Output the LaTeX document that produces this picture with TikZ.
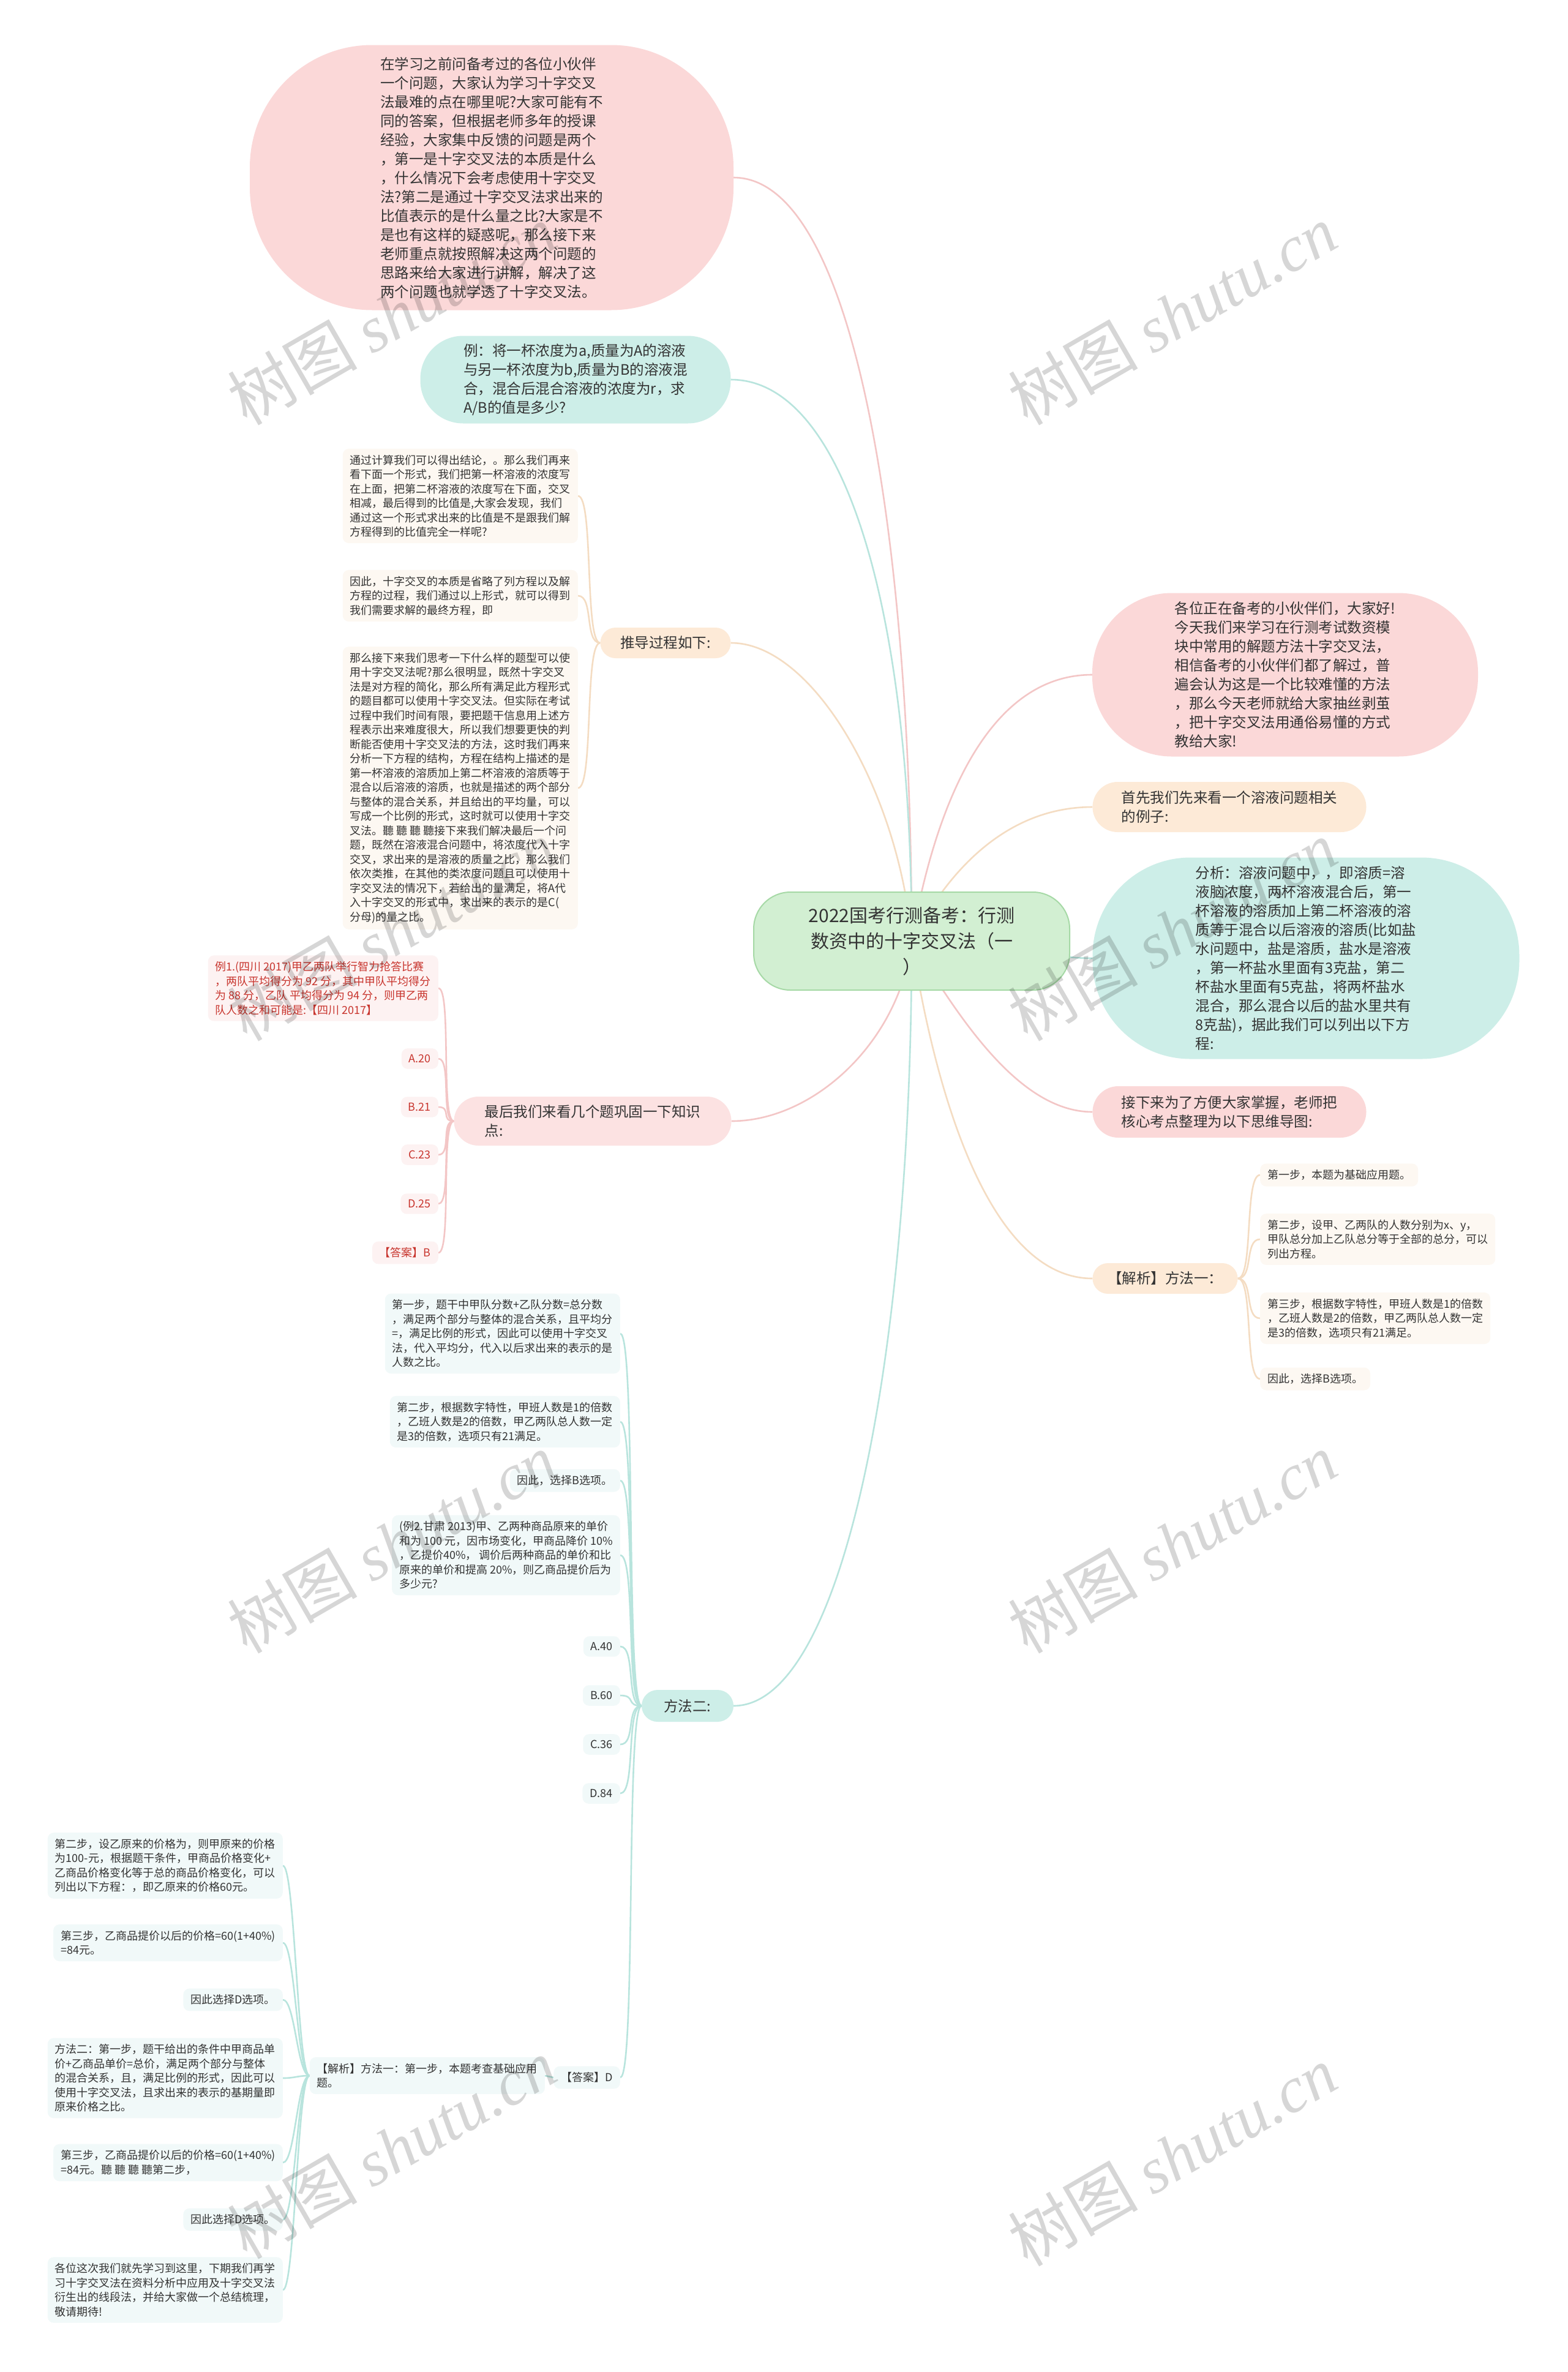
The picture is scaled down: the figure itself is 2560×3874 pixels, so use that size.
\documentclass[tikz,border=0pt]{standalone}
\usepackage{fontspec}
\setmainfont{Noto Sans CJK SC}
\newfontfamily\wmlatin{Liberation Serif}
\usetikzlibrary{backgrounds}
\pgfdeclarelayer{bottom}
\pgfsetlayers{bottom,background,main}
\definecolor{txt}{HTML}{333333}
\definecolor{redtxt}{HTML}{C8352E}
\definecolor{pinkF}{HTML}{FBD8D8}
\definecolor{pinkL}{HTML}{FCE2E2}
\definecolor{tealF}{HTML}{CDEEE8}
\definecolor{peachF}{HTML}{FDEAD7}
\definecolor{greenF}{HTML}{D2EFD2}
\definecolor{greenD}{HTML}{A6D9A6}
\definecolor{peachLeaf}{HTML}{FDF8F2}
\definecolor{redLeaf}{HTML}{FDF2F2}
\definecolor{tealLeaf}{HTML}{F1F9F9}
\definecolor{pinkLine}{HTML}{F3C6C6}
\definecolor{tealLine}{HTML}{B8E4DD}
\definecolor{peachLine}{HTML}{F4DCC2}
\tikzset{
  bub/.style={align=left, text=txt, font={\fontsize{23.5pt}{31pt}\selectfont}, inner sep=0pt},
  leaf/.style={align=left, text=txt, font={\fontsize{18pt}{23.5pt}\selectfont}, rounded corners=10pt, inner xsep=12pt, inner ysep=10pt},
  redleaf/.style={leaf, fill=redLeaf, text=redtxt},
  pleaf/.style={leaf, fill=peachLeaf},
  tleaf/.style={leaf, fill=tealLeaf},
  link/.style={line width=2.6pt},
  wm/.style={rotate=30, text=black, text opacity=0.16, font={\fontsize{106pt}{116pt}\selectfont}},
}
\begin{document}
\begin{tikzpicture}[x=1pt,y=1pt]
\useasboundingbox (0,0) rectangle (2560,-3874);
\begin{pgfonlayer}{bottom}
\fill[white] (0,0) rectangle (2560,-3874);
\end{pgfonlayer}

% centre
\node[align=center, text=txt, font={\fontsize{30pt}{42pt}\selectfont}, fill=greenF, draw=greenD, line width=2pt, rounded corners=60pt, minimum width=516pt, minimum height=160pt] (C) at (1489,-1537) {2022国考行测备考：行测\\数资中的十字交叉法（一\\）};

% right side
\node[bub, fill=pinkF, minimum width=630pt, minimum height=267pt, rounded corners=130pt] (R1) at (2099,-1102) {各位正在备考的小伙伴们，大家好!\\今天我们来学习在行测考试数资模\\块中常用的解题方法十字交叉法，\\相信备考的小伙伴们都了解过，普\\遍会认为这是一个比较难懂的方法\\，那么今天老师就给大家抽丝剥茧\\，把十字交叉法用通俗易懂的方式\\教给大家!};
\node[bub, fill=peachF, minimum width=447pt, minimum height=82pt, rounded corners=41pt] (R2) at (2008,-1318) {首先我们先来看一个溶液问题相关\\的例子:};
\node[bub, fill=tealF, minimum width=697pt, minimum height=329pt, rounded corners=160pt] (R3) at (2133,-1565) {分析：溶液问题中，，即溶质=溶\\液脑浓度，两杯溶液混合后，第一\\杯溶液的溶质加上第二杯溶液的溶\\质等于混合以后溶液的溶质(比如盐\\水问题中，盐是溶质，盐水是溶液\\，第一杯盐水里面有3克盐，第二\\杯盐水里面有5克盐，将两杯盐水\\混合，那么混合以后的盐水里共有\\8克盐)，据此我们可以列出以下方\\程:};
\node[bub, fill=pinkF, minimum width=447pt, minimum height=84pt, rounded corners=42pt] (R4) at (2008,-1816) {接下来为了方便大家掌握，老师把\\核心考点整理为以下思维导图:};
\node[bub, fill=peachF, minimum width=237pt, minimum height=50pt, rounded corners=25pt] (R5) at (1903,-2088) {【解析】方法一：};

\node[pleaf, anchor=west] (m1a) at (2058,-1919) {第一步，本题为基础应用题。};
\node[pleaf, anchor=west] (m1b) at (2058,-2024) {第二步，设甲、乙两队的人数分别为x、y，\\甲队总分加上乙队总分等于全部的总分，可以\\列出方程。};
\node[pleaf, anchor=west] (m1c) at (2058,-2153) {第三步，根据数字特性，甲班人数是1的倍数\\，乙班人数是2的倍数，甲乙两队总人数一定\\是3的倍数，选项只有21满足。};
\node[pleaf, anchor=west] (m1d) at (2058,-2252) {因此，选择B选项。};

% left side
\node[bub, fill=pinkF, minimum width=790pt, minimum height=433pt, rounded corners=200pt] (L1) at (803,-290) {在学习之前问备考过的各位小伙伴\\一个问题，大家认为学习十字交叉\\法最难的点在哪里呢?大家可能有不\\同的答案，但根据老师多年的授课\\经验，大家集中反馈的问题是两个\\，第一是十字交叉法的本质是什么\\，什么情况下会考虑使用十字交叉\\法?第二是通过十字交叉法求出来的\\比值表示的是什么量之比?大家是不\\是也有这样的疑惑呢，那么接下来\\老师重点就按照解决这两个问题的\\思路来给大家进行讲解，解决了这\\两个问题也就学透了十字交叉法。};
\node[bub, fill=tealF, minimum width=507pt, minimum height=143pt, rounded corners=70pt] (L2) at (940,-620) {例：将一杯浓度为a,质量为A的溶液\\与另一杯浓度为b,质量为B的溶液混\\合，混合后混合溶液的浓度为r，求\\A/B的值是多少?};
\node[bub, fill=peachF, minimum width=213pt, minimum height=50pt, rounded corners=25pt] (L3) at (1087,-1050) {推导过程如下:};
\node[bub, fill=pinkL, minimum width=453pt, minimum height=80pt, rounded corners=40pt] (L4) at (968,-1831) {最后我们来看几个题巩固一下知识\\点:};
\node[bub, fill=tealF, minimum width=150pt, minimum height=52pt, rounded corners=26pt] (L5) at (1123,-2786) {方法二:};

% derivation leaves
\node[pleaf, anchor=east] (d1) at (944,-810) {通过计算我们可以得出结论，。那么我们再来\\看下面一个形式，我们把第一杯溶液的浓度写\\在上面，把第二杯溶液的浓度写在下面，交叉\\相减，最后得到的比值是,大家会发现，我们\\通过这一个形式求出来的比值是不是跟我们解\\方程得到的比值完全一样呢?};
\node[pleaf, anchor=east] (d2) at (944,-973) {因此，十字交叉的本质是省略了列方程以及解\\方程的过程，我们通过以上形式，就可以得到\\我们需要求解的最终方程，即};
\node[pleaf, anchor=east] (d3) at (944,-1287) {那么接下来我们思考一下什么样的题型可以使\\用十字交叉法呢?那么很明显，既然十字交叉\\法是对方程的简化，那么所有满足此方程形式\\的题目都可以使用十字交叉法。但实际在考试\\过程中我们时间有限，要把题干信息用上述方\\程表示出来难度很大，所以我们想要更快的判\\断能否使用十字交叉法的方法，这时我们再来\\分析一下方程的结构，方程在结构上描述的是\\第一杯溶液的溶质加上第二杯溶液的溶质等于\\混合以后溶液的溶质，也就是描述的两个部分\\与整体的混合关系，并且给出的平均量，可以\\写成一个比例的形式，这时就可以使用十字交\\叉法。聽 聽 聽 聽接下来我们解决最后一个问\\题，既然在溶液混合问题中，将浓度代入十字\\交叉，求出来的是溶液的质量之比，那么我们\\依次类推，在其他的类浓度问题且可以使用十\\字交叉法的情况下，若给出的量满足，将A代\\入十字交叉的形式中，求出来的表示的是C(\\分母)的量之比。};

% example 1 leaves
\node[redleaf, anchor=east] (e0) at (716,-1614) {例1.(四川 2017)甲乙两队举行智力抢答比赛\\，两队平均得分为 92 分，其中甲队平均得分\\为 88 分，乙队 平均得分为 94 分，则甲乙两\\队人数之和可能是:【四川 2017】};
\node[redleaf, anchor=east] (eA) at (716,-1729) {A.20};
\node[redleaf, anchor=east] (eB) at (716,-1808) {B.21};
\node[redleaf, anchor=east] (eC) at (716,-1886) {C.23};
\node[redleaf, anchor=east] (eD) at (716,-1966) {D.25};
\node[redleaf, anchor=east] (eK) at (716,-2046) {【答案】B};

% method two leaves
\node[tleaf, anchor=east] (t1) at (1013,-2178) {第一步，题干中甲队分数+乙队分数=总分数\\，满足两个部分与整体的混合关系，且平均分\\=，满足比例的形式，因此可以使用十字交叉\\法，代入平均分，代入以后求出来的表示的是\\人数之比。};
\node[tleaf, anchor=east] (t2) at (1013,-2322) {第二步，根据数字特性，甲班人数是1的倍数\\，乙班人数是2的倍数，甲乙两队总人数一定\\是3的倍数，选项只有21满足。};
\node[tleaf, anchor=east] (t3) at (1013,-2418) {因此，选择B选项。};
\node[tleaf, anchor=east] (t4) at (1013,-2540) {(例2.甘肃 2013)甲、乙两种商品原来的单价\\和为 100 元，因市场变化，甲商品降价 10\%\\，乙提价40\%， 调价后两种商品的单价和比\\原来的单价和提高 20\%，则乙商品提价后为\\多少元?};
\node[tleaf, anchor=east] (tA) at (1013,-2689) {A.40};
\node[tleaf, anchor=east] (tB) at (1013,-2769) {B.60};
\node[tleaf, anchor=east] (tC) at (1013,-2849) {C.36};
\node[tleaf, anchor=east] (tD) at (1013,-2929) {D.84};
\node[tleaf, anchor=east] (tK) at (1013,-3393) {【答案】D};
\node[tleaf, anchor=east] (tJ) at (890,-3390) {【解析】方法一：第一步，本题考查基础应用\\题。};

% bottom-left leaves
\node[tleaf, anchor=east] (b1) at (462,-3047) {第二步，设乙原来的价格为，则甲原来的价格\\为100-元，根据题干条件，甲商品价格变化+\\乙商品价格变化等于总的商品价格变化，可以\\列出以下方程：，即乙原来的价格60元。};
\node[tleaf, anchor=east] (b2) at (462,-3173) {第三步，乙商品提价以后的价格=60(1+40\%)\\=84元。};
\node[tleaf, anchor=east] (b3) at (462,-3266) {因此选择D选项。};
\node[tleaf, anchor=east] (b4) at (462,-3394) {方法二：第一步，题干给出的条件中甲商品单\\价+乙商品单价=总价，满足两个部分与整体\\的混合关系，且，满足比例的形式，因此可以\\使用十字交叉法，且求出来的表示的基期量即\\原来价格之比。};
\node[tleaf, anchor=east] (b5) at (462,-3532) {第三步，乙商品提价以后的价格=60(1+40\%)\\=84元。聽 聽 聽 聽第二步，};
\node[tleaf, anchor=east] (b6) at (462,-3625) {因此选择D选项。};
\node[tleaf, anchor=east] (b7) at (462,-3740) {各位这次我们就先学习到这里，下期我们再学\\习十字交叉法在资料分析中应用及十字交叉法\\衍生出的线段法，并给大家做一个总结梳理，\\敬请期待!};

\begin{pgfonlayer}{background}
% centre to left
\draw[link, pinkLine] (C.center) .. controls (1489,-900) and (1400,-290) .. (L1.east);
\draw[link, tealLine] (C.center) .. controls (1489,-1000) and (1380,-620) .. (L2.east);
\draw[link, peachLine] (C.center) .. controls (1470,-1300) and (1330,-1050) .. (L3.east);
\draw[link, pinkLine] (C.center) .. controls (1470,-1700) and (1330,-1831) .. (L4.east);
\draw[link, tealLine] (C.center) .. controls (1489,-2200) and (1380,-2786) .. (L5.east);
% centre to right
\draw[link, pinkLine] (C.center) .. controls (1530,-1300) and (1620,-1102) .. (R1.west);
\draw[link, peachLine] (C.center) .. controls (1560,-1400) and (1660,-1318) .. (R2.west);
\draw[link, tealLine] (C.center) .. controls (1650,-1537) and (1700,-1565) .. (R3.west);
\draw[link, pinkLine] (C.center) .. controls (1560,-1650) and (1660,-1816) .. (R4.west);
\draw[link, peachLine] (C.center) .. controls (1530,-1800) and (1620,-2088) .. (R5.west);
% sub branches
\foreach \n in {m1a,m1b,m1c,m1d}
  \draw[link, peachLine] (R5.east) .. controls +(26,0) and +(-26,0) .. (\n.west);
\foreach \n in {d1,d2,d3}
  \draw[link, peachLine] (L3.west) .. controls +(-26,0) and +(26,0) .. (\n.east);
\foreach \n in {e0,eA,eB,eC,eD,eK}
  \draw[link, pinkLine] (L4.west) .. controls +(-22,0) and +(22,0) .. (\n.east);
\foreach \n in {t1,t2,t3,t4,tA,tB,tC,tD,tK}
  \draw[link, tealLine] (L5.west) .. controls +(-26,0) and +(26,0) .. (\n.east);
\draw[link, tealLine] (tK.west) -- (tJ.east);
\foreach \n in {b1,b2,b3,b4,b5,b6,b7}
  \draw[link, tealLine] (tJ.west) .. controls +(-20,0) and +(20,0) .. (\n.east);
\end{pgfonlayer}

% watermarks
\node[wm] (w1) at (640,-514) {树图 {\wmlatin\itshape shutu.cn}};
\node[wm] (w2) at (1915,-514) {树图 {\wmlatin\itshape shutu.cn}};
\node[wm] (w3) at (640,-1520) {树图 {\wmlatin\itshape shutu.cn}};
\node[wm] (w4) at (1915,-1520) {树图 {\wmlatin\itshape shutu.cn}};
\node[wm] (w5) at (640,-2520) {树图 {\wmlatin\itshape shutu.cn}};
\node[wm] (w6) at (1915,-2520) {树图 {\wmlatin\itshape shutu.cn}};
\node[wm] (w7) at (640,-3509) {树图 {\wmlatin\itshape shutu.cn}};
\node[wm] (w8) at (1915,-3521) {树图 {\wmlatin\itshape shutu.cn}};
\end{tikzpicture}
\end{document}
